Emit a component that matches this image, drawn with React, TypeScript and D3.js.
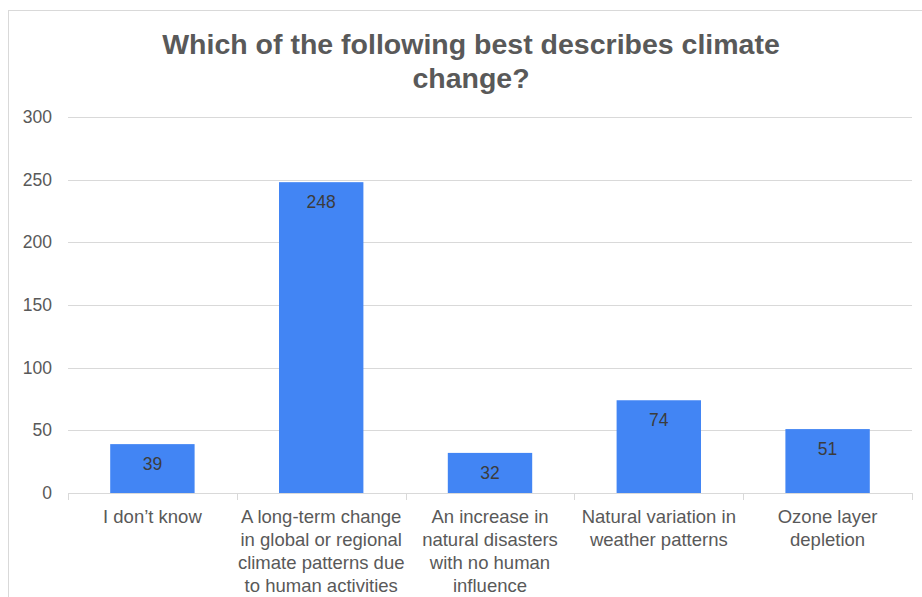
import React, { useEffect, useRef } from "react";
import * as d3 from "d3";

const categories: string[][] = [
  ["I don’t know"],
  ["A long-term change", "in global or regional", "climate patterns due", "to human activities"],
  ["An increase in", "natural disasters", "with no human", "influence"],
  ["Natural variation in", "weather patterns"],
  ["Ozone layer", "depletion"],
];
const counts: number[] = [39, 248, 32, 74, 51];
const yTicks: number[] = [0, 50, 100, 150, 200, 250, 300];
const titleLines: string[] = ["Which of the following best describes climate", "change?"];

const W = 922;
const H = 597;
const FONT = "'Liberation Sans', Arial, sans-serif";

export default function App() {
  const ref = useRef<SVGSVGElement>(null);

  useEffect(() => {
    const svg = d3.select(ref.current);
    svg.selectAll("*").remove();

    // chart frame
    svg.append("rect").attr("width", W).attr("height", H).attr("fill", "#ffffff");
    svg
      .append("rect")
      .attr("x", 8.5)
      .attr("y", 10.5)
      .attr("width", W + 20)
      .attr("height", H + 20)
      .attr("fill", "#ffffff")
      .attr("stroke", "#d9d9d9")
      .attr("stroke-width", 1);

    // title
    const title = svg
      .append("text")
      .attr("text-anchor", "middle")
      .attr("font-family", FONT)
      .attr("font-weight", "bold")
      .attr("font-size", 28.5)
      .attr("fill", "#595959");
    titleLines.forEach((t, i) => {
      title.append("tspan").attr("x", 471).attr("y", 54 + i * 34).text(t);
    });

    const x0 = 68;
    const x1 = 912;
    const yTop = 117;
    const yBot = 493;

    const x = d3
      .scaleBand<number>()
      .domain(d3.range(categories.length))
      .range([x0, x1])
      .paddingInner(0.5)
      .paddingOuter(0.25);
    const xTickScale = d3
      .scaleBand<number>()
      .domain(d3.range(categories.length))
      .range([x0, x1]);
    const y = d3.scaleLinear().domain([0, 300]).range([yBot, yTop]);

    // gridlines and y labels
    const g = svg.append("g");
    yTicks.forEach((t) => {
      if (t !== 0) {
        g.append("line")
          .attr("x1", x0)
          .attr("x2", x1)
          .attr("y1", Math.round(y(t)) + 0.5)
          .attr("y2", Math.round(y(t)) + 0.5)
          .attr("stroke", "#d9d9d9")
          .attr("stroke-width", 1);
      }
      g.append("text")
        .attr("x", 52)
        .attr("y", y(t) + 6)
        .attr("text-anchor", "end")
        .attr("font-family", FONT)
        .attr("font-size", 17.5)
        .attr("fill", "#595959")
        .text(t);
    });

    // bars
    counts.forEach((v, i) => {
      svg
        .append("rect")
        .attr("x", x(i)!)
        .attr("y", y(v))
        .attr("width", x.bandwidth())
        .attr("height", y(0) - y(v))
        .attr("fill", "#4285f4");
      svg
        .append("text")
        .attr("x", x(i)! + x.bandwidth() / 2)
        .attr("y", y(v) + 26)
        .attr("text-anchor", "middle")
        .attr("font-family", FONT)
        .attr("font-size", 17.5)
        .attr("fill", "#3c3c3c")
        .text(v);
    });

    // x axis baseline and ticks
    svg
      .append("line")
      .attr("x1", x0)
      .attr("x2", x1)
      .attr("y1", yBot + 0.5)
      .attr("y2", yBot + 0.5)
      .attr("stroke", "#d9d9d9");
    d3.range(categories.length + 1).forEach((i) => {
      const xt = i < categories.length ? xTickScale(i)! : x1;
      svg
        .append("line")
        .attr("x1", Math.round(xt) + 0.5)
        .attr("x2", Math.round(xt) + 0.5)
        .attr("y1", yBot)
        .attr("y2", yBot + 7)
        .attr("stroke", "#d9d9d9");
    });

    // category labels
    categories.forEach((lines, i) => {
      const t = svg
        .append("text")
        .attr("text-anchor", "middle")
        .attr("font-family", FONT)
        .attr("font-size", 18.5)
        .attr("fill", "#595959");
      lines.forEach((ln, j) => {
        t.append("tspan")
          .attr("x", xTickScale(i)! + xTickScale.bandwidth() / 2)
          .attr("y", 523 + j * 23)
          .text(ln);
      });
    });
  }, []);

  return (
    <svg
      ref={ref}
      width={W}
      height={H}
      style={{ position: "absolute", left: 0, top: 0, display: "block" }}
    />
  );
}
